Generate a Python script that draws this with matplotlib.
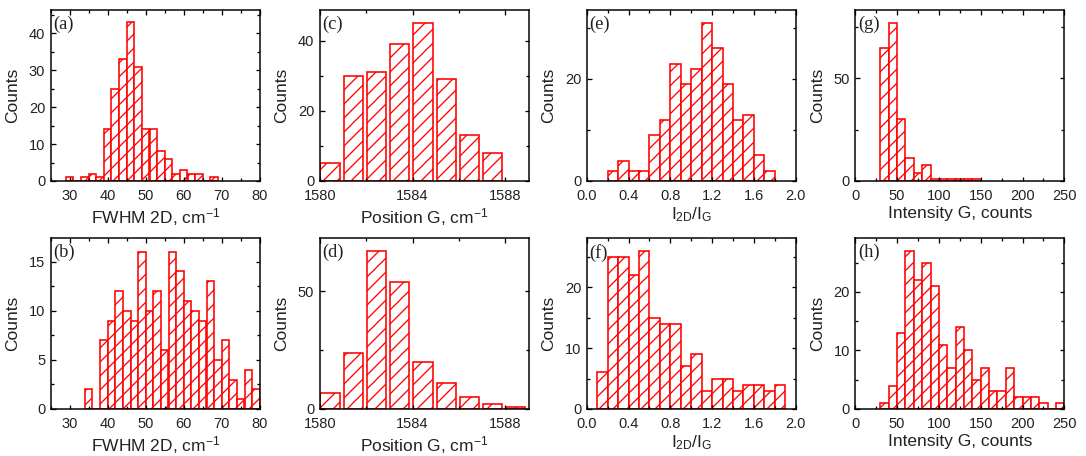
import matplotlib
matplotlib.use('Agg')
import matplotlib.pyplot as plt
from matplotlib.ticker import MultipleLocator

DPI = 84  # chosen so that the '//' hatch spacing matches the reference


def pt(px):
    """convert a size in output pixels to points"""
    return px * 72.0 / DPI


plt.rcParams['font.family'] = ['Liberation Sans', 'DejaVu Sans']
plt.rcParams['mathtext.default'] = 'regular'
plt.rcParams['hatch.linewidth'] = pt(1.3)
plt.rcParams['hatch.color'] = 'red'

# ---------------- data ----------------
# (a) FWHM 2D, top row
a_left = [29, 31, 33, 35, 37, 39, 41, 43, 45, 47, 49, 51, 53, 55, 57, 59, 61, 63, 65, 67]
a_counts = [1, 0, 1, 2, 1, 14, 25, 33, 43, 31, 14, 14, 8, 6, 2, 3, 2, 2, 0, 1]
# (b) FWHM 2D, bottom row
b_left = [34, 36, 38, 40, 42, 44, 46, 48, 50, 52, 54, 56, 58, 60, 62, 64, 66, 68, 70, 72, 74, 76, 78]
b_counts = [2, 0, 7, 9, 12, 10, 9, 16, 10, 12, 6, 16, 14, 11, 10, 9, 13, 5, 7, 3, 1, 4, 2]
# (c) Position G, top row
c_pos = [1580, 1581, 1582, 1583, 1584, 1585, 1586, 1587]
c_counts = [5, 30, 31, 39, 45, 29, 13, 8]
# (d) Position G, bottom row
d_pos = [1580, 1581, 1582, 1583, 1584, 1585, 1586, 1587, 1588]
d_counts = [7, 24, 67, 54, 20, 11, 5, 2, 1]
# (e) I2D/IG, top row
e_left = [0.2, 0.3, 0.4, 0.5, 0.6, 0.7, 0.8, 0.9, 1.0, 1.1, 1.2, 1.3, 1.4, 1.5, 1.6, 1.7]
e_counts = [2, 4, 2, 2, 9, 12, 23, 19, 22, 31, 26, 19, 12, 13, 5, 2]
# (f) I2D/IG, bottom row
f_left = [0.1, 0.2, 0.3, 0.4, 0.5, 0.6, 0.7, 0.8, 0.9, 1.0, 1.1, 1.2, 1.3, 1.4, 1.5, 1.6, 1.7, 1.8]
f_counts = [6, 25, 25, 22, 26, 15, 14, 14, 7, 9, 3, 5, 5, 3, 4, 4, 3, 4]
# (g) Intensity G, top row
g_left = [30, 40, 50, 60, 70, 80, 90, 100, 110, 120, 130, 140]
g_counts = [65, 77, 30, 11, 4, 8, 1, 1, 1, 1, 1, 1]
# (h) Intensity G, bottom row
h_left = [30, 40, 50, 60, 70, 80, 90, 100, 110, 120, 130, 140, 150, 160, 170, 180,
          190, 200, 210, 220, 230, 240]
h_counts = [1, 4, 13, 27, 22, 25, 21, 11, 7, 14, 10, 5, 7, 3, 3, 7, 2, 2, 2, 1, 0, 1]

xlabel_fwhm = 'FWHM 2D, cm$^{-1}$'
xlabel_pos = 'Position G, cm$^{-1}$'
xlabel_ratio = 'I$_{2D}$/I$_{G}$'
xlabel_int = 'Intensity G, counts'
ylabel = 'Counts'

# ---------------- layout ----------------
W, H = 1086, 456
fig = plt.figure(figsize=(W / DPI, H / DPI), dpi=DPI)
lefts_px = [50.7, 319.7, 586.7, 855.3]
aw, ah = 209 / W, 171 / H
bottoms = [1 - 181 / H, 1 - 409 / H]

RED = '#ff0000'
TXT = '#222222'

panels = [
    # label, row, col, x, counts, width, offset, xlim, xmaj, xmin, ylim, ymaj, ymin, xlabel
    ('(a)', 0, 0, a_left, a_counts, 2, 0, (25, 80), 10, 5, (0, 46.3), 10, 5, xlabel_fwhm),
    ('(b)', 1, 0, b_left, b_counts, 2, 0, (25, 80), 10, 5, (0, 17.4), 5, 2.5, xlabel_fwhm),
    ('(c)', 0, 1, c_pos, c_counts, 0.83, 0.03, (1580, 1589), 4, 2, (0, 48.7), 20, 10, xlabel_pos),
    ('(d)', 1, 1, d_pos, d_counts, 0.83, 0.03, (1580, 1589), 4, 2, (0, 72.7), 50, 25, xlabel_pos),
    ('(e)', 0, 2, e_left, e_counts, 0.1, 0, (0, 2.0), 0.4, 0.2, (0, 33.5), 20, 10, xlabel_ratio),
    ('(f)', 1, 2, f_left, f_counts, 0.1, 0, (0, 2.0), 0.4, 0.2, (0, 28.1), 10, 5, xlabel_ratio),
    ('(g)', 0, 3, g_left, g_counts, 10, 0, (0, 250), 50, 25, (0, 83.3), 50, 25, xlabel_int),
    ('(h)', 1, 3, h_left, h_counts, 10, 0, (0, 250), 50, 25, (0, 29.2), 10, 5, xlabel_int),
]

for (lab, row, col, xs, cs, w, off, xlim, xmaj, xmin, ylim, ymaj, ymin, xlab) in panels:
    ax = fig.add_axes([lefts_px[col] / W, bottoms[row], aw, ah])
    ax.bar([x + off for x in xs], cs, width=w, align='edge', facecolor='white',
           edgecolor=RED, hatch='//', linewidth=pt(1.6), zorder=1)
    ax.set_xlim(*xlim)
    ax.set_ylim(*ylim)
    ax.xaxis.set_major_locator(MultipleLocator(xmaj))
    ax.xaxis.set_minor_locator(MultipleLocator(xmin))
    ax.yaxis.set_major_locator(MultipleLocator(ymaj))
    ax.yaxis.set_minor_locator(MultipleLocator(ymin))
    ax.tick_params(which='both', direction='in', top=True, right=True,
                   width=pt(1.3), colors='black', labelcolor=TXT)
    ax.tick_params(which='major', length=pt(4.5), labelsize=pt(14.6))
    ax.tick_params(axis='y', which='major', pad=pt(5.5))
    ax.tick_params(axis='x', which='major', pad=pt(7.5))
    ax.tick_params(which='minor', length=pt(3.0))
    for sp in ax.spines.values():
        sp.set_linewidth(pt(1.5))
        sp.set_zorder(3)
    ax.set_xlabel(xlab, fontsize=pt(17.4), color=TXT)
    ax.set_ylabel(ylabel, fontsize=pt(17.4), color=TXT)
    ax.xaxis.set_label_coords(0.5, -0.145)
    ax.yaxis.set_label_coords(-0.145, 0.5)
    ax.text(0.012, 0.965, lab, transform=ax.transAxes, ha='left', va='top',
            fontsize=pt(18.5), family=['Liberation Serif', 'DejaVu Serif'], color=TXT)

fig.savefig('out.png', dpi=DPI)
